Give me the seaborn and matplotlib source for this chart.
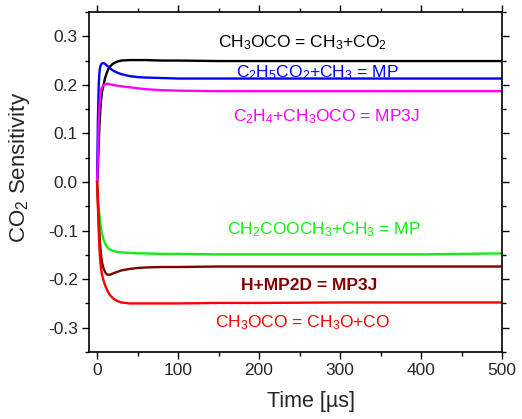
import matplotlib
matplotlib.use("Agg")
import matplotlib.pyplot as plt
from matplotlib.ticker import MultipleLocator, FuncFormatter
import seaborn as sns
import pandas as pd

# Time grid [µs]
time_us = [0, 1, 2, 3, 4, 5, 6, 8, 10, 12, 14, 16, 20, 25, 30, 40, 50, 60,
           80, 100, 150, 200, 300, 400, 500]

# CO2 sensitivity coefficients for each reaction
s_ch3oco_ch3_co2 = [0, 0.03, 0.08, 0.12, 0.15, 0.17, 0.185, 0.20, 0.215, 0.225,
                    0.233, 0.238, 0.244, 0.248, 0.250, 0.251, 0.251, 0.251,
                    0.250, 0.250, 0.249, 0.249, 0.249, 0.249, 0.249]
s_c2h5co2_ch3_mp = [0, 0.13, 0.20, 0.228, 0.238, 0.242, 0.244, 0.245, 0.243,
                    0.240, 0.237, 0.234, 0.229, 0.225, 0.222, 0.218, 0.216,
                    0.215, 0.214, 0.213, 0.213, 0.213, 0.213, 0.213, 0.213]
s_c2h4_ch3oco_mp3j = [0, 0.05, 0.12, 0.16, 0.18, 0.19, 0.195, 0.199, 0.201,
                      0.202, 0.202, 0.201, 0.200, 0.198, 0.197, 0.195, 0.193,
                      0.191, 0.189, 0.188, 0.187, 0.187, 0.187, 0.187, 0.187]
s_ch2cooch3_ch3_mp = [0, -0.03, -0.055, -0.07, -0.085, -0.097, -0.106, -0.119,
                      -0.127, -0.133, -0.137, -0.139, -0.142, -0.144, -0.145,
                      -0.146, -0.147, -0.147, -0.148, -0.148, -0.149, -0.149,
                      -0.149, -0.149, -0.147]
s_h_mp2d_mp3j = [0, -0.04, -0.08, -0.11, -0.135, -0.152, -0.165, -0.178, -0.186,
                 -0.190, -0.191, -0.191, -0.188, -0.185, -0.182, -0.179, -0.177,
                 -0.176, -0.175, -0.175, -0.174, -0.174, -0.174, -0.174, -0.174]
s_ch3oco_ch3o_co = [0, -0.05, -0.10, -0.14, -0.165, -0.18, -0.19, -0.203,
                    -0.213, -0.221, -0.228, -0.233, -0.240, -0.245, -0.248,
                    -0.250, -0.250, -0.250, -0.250, -0.250, -0.249, -0.249,
                    -0.248, -0.248, -0.248]

reactions = [
    r"CH$_3$OCO = CH$_3$+CO$_2$",
    r"C$_2$H$_5$CO$_2$+CH$_3$ = MP",
    r"C$_2$H$_4$+CH$_3$OCO = MP3J",
    r"CH$_2$COOCH$_3$+CH$_3$ = MP",
    "H+MP2D = MP3J",
    r"CH$_3$OCO = CH$_3$O+CO",
]
series = [s_ch3oco_ch3_co2, s_c2h5co2_ch3_mp, s_c2h4_ch3oco_mp3j,
          s_ch2cooch3_ch3_mp, s_h_mp2d_mp3j, s_ch3oco_ch3o_co]
colors = ["#000000", "#0000FF", "#FF00FF", "#11EE11", "#800000", "#FF0000"]

frames = [pd.DataFrame({"time": time_us, "sens": vals, "reaction": name})
          for name, vals in zip(reactions, series)]
df = pd.concat(frames, ignore_index=True)

sns.set_style("ticks")
plt.rcParams["font.family"] = ["Liberation Sans", "DejaVu Sans"]
plt.rcParams["mathtext.fontset"] = "custom"
plt.rcParams["mathtext.rm"] = "Liberation Sans"
plt.rcParams["mathtext.it"] = "Liberation Sans:italic"
plt.rcParams["mathtext.bf"] = "Liberation Sans:bold"

fig = plt.figure(figsize=(5.22, 4.19), dpi=100)
ax = fig.add_axes([0.1705, 0.1599, 0.7912, 0.8115])

sns.lineplot(data=df, x="time", y="sens", hue="reaction",
             palette=dict(zip(reactions, colors)), linewidth=1.7,
             legend=False, ax=ax, sort=False)

ax.set_xlim(-10, 500)
ax.set_ylim(-0.35, 0.35)
ax.xaxis.set_major_locator(MultipleLocator(100))
ax.xaxis.set_minor_locator(MultipleLocator(50))
ax.yaxis.set_major_locator(MultipleLocator(0.1))
ax.yaxis.set_minor_locator(MultipleLocator(0.05))
ax.yaxis.set_major_formatter(FuncFormatter(
    lambda v, p: f"{v:.1f}".replace("-0.0", "0.0")))
ax.tick_params(which="both", direction="out", top=True, right=True,
               labelsize=12.5, width=1, color="black")
ax.tick_params(which="major", length=5, pad=3)
ax.tick_params(which="minor", length=3)
for sp in ax.spines.values():
    sp.set_linewidth(1.2)
    sp.set_color("black")

ax.set_xlabel(r"Time [µs]", fontsize=15.5)
ax.set_ylabel(r"CO$_2$ Sensitivity", fontsize=16)
ax.xaxis.set_label_coords(0.537, -0.115)
ax.yaxis.set_label_coords(-0.137, 0.543)

# Reaction labels beside their curves (baseline positions)
label_pos = [(253, 0.277), (272, 0.216), (283, 0.124),
             (280, -0.107), (262, -0.223), (254, -0.300)]
for (x, y), name, c in zip(label_pos, reactions, colors):
    ax.text(x, y, name, color=c, fontsize=12.5, ha="center", va="baseline",
            fontweight="bold" if name.startswith("H+") else "normal")

fig.savefig("out.png", dpi=100)
